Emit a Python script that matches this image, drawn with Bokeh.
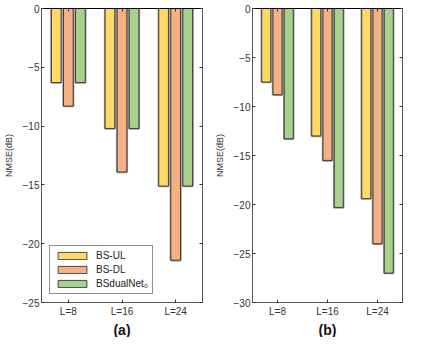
from bokeh.plotting import figure
from bokeh.models import (ColumnDataSource, LinearAxis, Title, FixedTicker, Range1d, Legend,
                          LegendItem, CustomLabelingPolicy)
from bokeh.transform import dodge
from bokeh.layouts import row
from bokeh.embed import file_html
from bokeh.resources import INLINE

categories = ["L=8", "L=16", "L=24"]
series_names = ["BS-UL", "BS-DL", "BSdualNet\u2080"]
colors = ["#FFD966", "#F4B183", "#A9D18E"]

a_ul = [-6.3, -10.2, -15.1]
a_dl = [-8.3, -13.9, -21.4]
a_dual = [-6.3, -10.2, -15.1]

b_ul = [-7.5, -13.0, -19.4]
b_dl = [-8.8, -15.5, -24.0]
b_dual = [-13.3, -20.3, -27.0]

FONT = "Liberation Sans"


def bare_axis(ticks, line_color):
    return LinearAxis(ticker=FixedTicker(ticks=ticks), major_label_text_font_size="0px",
                      major_label_policy=CustomLabelingPolicy(code=""),
                      major_tick_in=3, major_tick_out=0, minor_tick_in=0, minor_tick_out=0,
                      axis_line_color=line_color, major_tick_line_color="#333333")


def make_panel(ul, dl, dual, ymin, yticks, title, left_border, right_border, width, legend):
    p = figure(width=width, height=337, output_backend="svg", toolbar_location=None,
               x_range=Range1d(0.5, 3.5), y_range=Range1d(ymin, 0),
               min_border_left=left_border, min_border_right=right_border,
               min_border_top=8, min_border_bottom=0)
    p.xgrid.visible = False
    p.ygrid.visible = False
    p.outline_line_color = "#555555"
    p.outline_line_width = 1
    xs = list(range(1, len(categories) + 1))
    src = ColumnDataSource(dict(x=xs, ul=ul, dl=dl, dual=dual, zero=[0] * len(xs)))
    renderers = []
    for key, off, col in zip(["ul", "dl", "dual"], [-0.225, 0.0, 0.225], colors):
        p.vbar(x=dodge("x", off, range=p.x_range), top="zero", bottom=key, width=0.18,
               source=src, fill_color=None, line_color="#9a9a9a", line_width=2.5)
        r = p.vbar(x=dodge("x", off, range=p.x_range), top="zero", bottom=key, width=0.18,
                   source=src, fill_color=col, line_color="#222222", line_width=0.8)
        renderers.append(r)

    for ax in p.yaxis + p.xaxis:
        ax.major_tick_in = 3
        ax.major_tick_out = 0
        ax.minor_tick_in = 0
        ax.minor_tick_out = 0
        ax.axis_line_color = "#555555"
        ax.major_tick_line_color = "#333333"
        ax.major_label_text_font = FONT
        ax.major_label_text_font_size = "10px"
        ax.major_label_text_color = "#333333"
    p.yaxis.ticker = FixedTicker(ticks=yticks)
    p.yaxis.major_label_standoff = 2
    p.yaxis.axis_label = "NMSE(dB)"
    p.yaxis.axis_label_text_font = FONT
    p.yaxis.axis_label_text_font_size = "9px"
    p.yaxis.axis_label_text_font_style = "normal"
    p.yaxis.axis_label_text_color = "#333333"
    p.yaxis.axis_label_standoff = 6
    p.xaxis.ticker = FixedTicker(ticks=xs)
    p.xaxis.major_label_overrides = {x: c for x, c in zip(xs, categories)}
    p.xaxis.major_label_standoff = 3

    p.add_layout(bare_axis(yticks, "#555555"), "right")
    p.add_layout(bare_axis(xs, "#000000"), "above")

    t = Title(text=title, align="center", text_font=FONT, text_font_size="14px",
              text_font_style="bold", text_color="#111111", offset=0, standoff=0)
    p.add_layout(t, "below")

    if legend:
        lg = Legend(items=[LegendItem(label=n, renderers=[r]) for n, r in zip(series_names, renderers)],
                    location="bottom_left", glyph_width=36, glyph_height=9,
                    label_text_font=FONT, label_text_font_size="10px", label_text_color="#222222",
                    label_height=10, spacing=3, padding=4, margin=8,
                    border_line_color="#222222", border_line_width=1,
                    label_standoff=6)
        p.add_layout(lg)
    return p


pa = make_panel(a_ul, a_dl, a_dual, -25, [-25, -20, -15, -10, -5, 0], "(a)", 38, 8, 210, True)
pb = make_panel(b_ul, b_dl, b_dual, -30, [-30, -25, -20, -15, -10, -5, 0], "(b)", 42, 3, 195, False)

layout = row(pa, pb)
open("out.html", "w").write(file_html(layout, INLINE))
